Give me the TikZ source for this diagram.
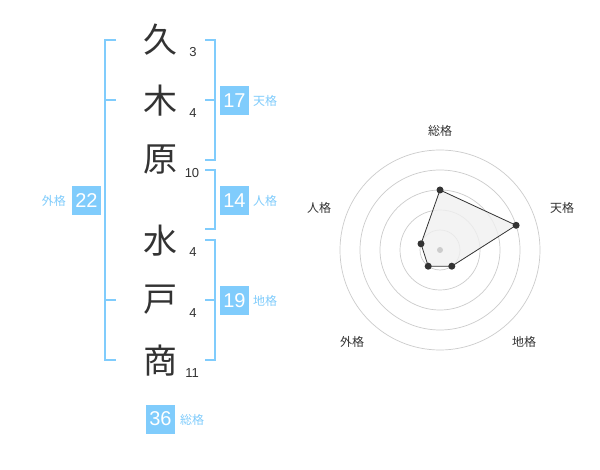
\documentclass[tikz,border=0pt]{standalone}
\usepackage{fontspec}
\setmainfont{Liberation Sans}
\newfontfamily\jp{Noto Sans CJK JP}
\definecolor{sky}{HTML}{80CCFC}
\definecolor{ink}{HTML}{333333}
\begin{document}
\begin{tikzpicture}[x=1pt,y=-1pt,
 kanji/.style={font=\jp\fontsize{34}{34}\selectfont, text=ink, inner sep=0},
 strokenum/.style={font=\fontsize{13}{13}\selectfont, text=ink, inner sep=0},
 valbox/.style={fill=sky, text=white, minimum size=29pt, inner sep=0, font=\fontsize{20}{20}\selectfont},
 lab/.style={font=\jp\fontsize{12}{12}\selectfont, text=sky, inner sep=0},
 brk/.style={draw=sky, line width=2pt},
 ring/.style={draw=black!20, line width=0.7pt},
 rlab/.style={font=\jp\fontsize{12}{12}\selectfont, text=ink, inner sep=0},
 rdot/.style={circle, fill=ink, inner sep=0, minimum size=7pt}]
\useasboundingbox[fill=white] (0,0) rectangle (600,470);
% characters
\node[kanji] (k1) at (160,40) {久};
\node[kanji] (k2) at (160,101) {木};
\node[kanji] (k3) at (160,160) {原};
\node[kanji] (k4) at (160,241) {水};
\node[kanji] (k5) at (160,300) {戸};
\node[kanji] (k6) at (160,361) {商};
% stroke counts
\node[strokenum] (s1) at (193,52) {3};
\node[strokenum] (s2) at (193,113) {4};
\node[strokenum] (s3) at (192,173) {10};
\node[strokenum] (s4) at (193,252) {4};
\node[strokenum] (s5) at (193,313) {4};
\node[strokenum] (s6) at (192,373) {11};
% brackets
\draw[brk] (116,40) -- (105,40) -- (105,360) -- (116,360);
\draw[brk] (105,100) -- (116,100);
\draw[brk] (105,300) -- (116,300);
\draw[brk] (205,40) -- (215,40) -- (215,160) -- (205,160);
\draw[brk] (205,100) -- (215,100);
\draw[brk] (205,170) -- (215,170) -- (215,229) -- (205,229);
\draw[brk] (205,240) -- (215,240) -- (215,360) -- (205,360);
\draw[brk] (205,300) -- (215,300);
% value boxes
\node[valbox] (gai) at (86.5,200.5) {22};
\node[valbox] (ten) at (234.5,100.5) {17};
\node[valbox] (jin) at (234.5,200.5) {14};
\node[valbox] (chi) at (234.5,300.5) {19};
\node[valbox] (sou) at (160.5,419) {36};
\node[lab, anchor=east] (gail) at (66,200.5) {外格};
\node[lab, anchor=west] (tenl) at (253,100.5) {天格};
\node[lab, anchor=west] (jinl) at (253,200.5) {人格};
\node[lab, anchor=west] (chil) at (253,300.5) {地格};
\node[lab, anchor=west] (soul) at (180,420) {総格};
% radar
\foreach \r in {20,40,60,80,100} \draw[ring] (440,250) circle[radius=\r];
\coordinate (pS) at (440,190);
\coordinate (pT) at (516.1,225.3);
\coordinate (pC) at (451.8,266.2);
\coordinate (pG) at (428.2,266.2);
\coordinate (pJ) at (421.0,243.8);
\draw[fill=black!6, draw=ink, line width=0.8pt, fill opacity=0.8] (pS) -- (pT) -- (pC) -- (pG) -- (pJ) -- cycle;
\node[circle, fill=black!20, inner sep=0, minimum size=6pt] (rc) at (440,250) {};
\foreach \p in {pS,pT,pC,pG,pJ} \node[rdot] at (\p) {};
\node[rlab] (rS) at (440,131) {総格};
\node[rlab] (rT) at (562,208) {天格};
\node[rlab] (rC) at (524,342) {地格};
\node[rlab] (rG) at (352,342) {外格};
\node[rlab] (rJ) at (319,208) {人格};
\end{tikzpicture}
\end{document}
